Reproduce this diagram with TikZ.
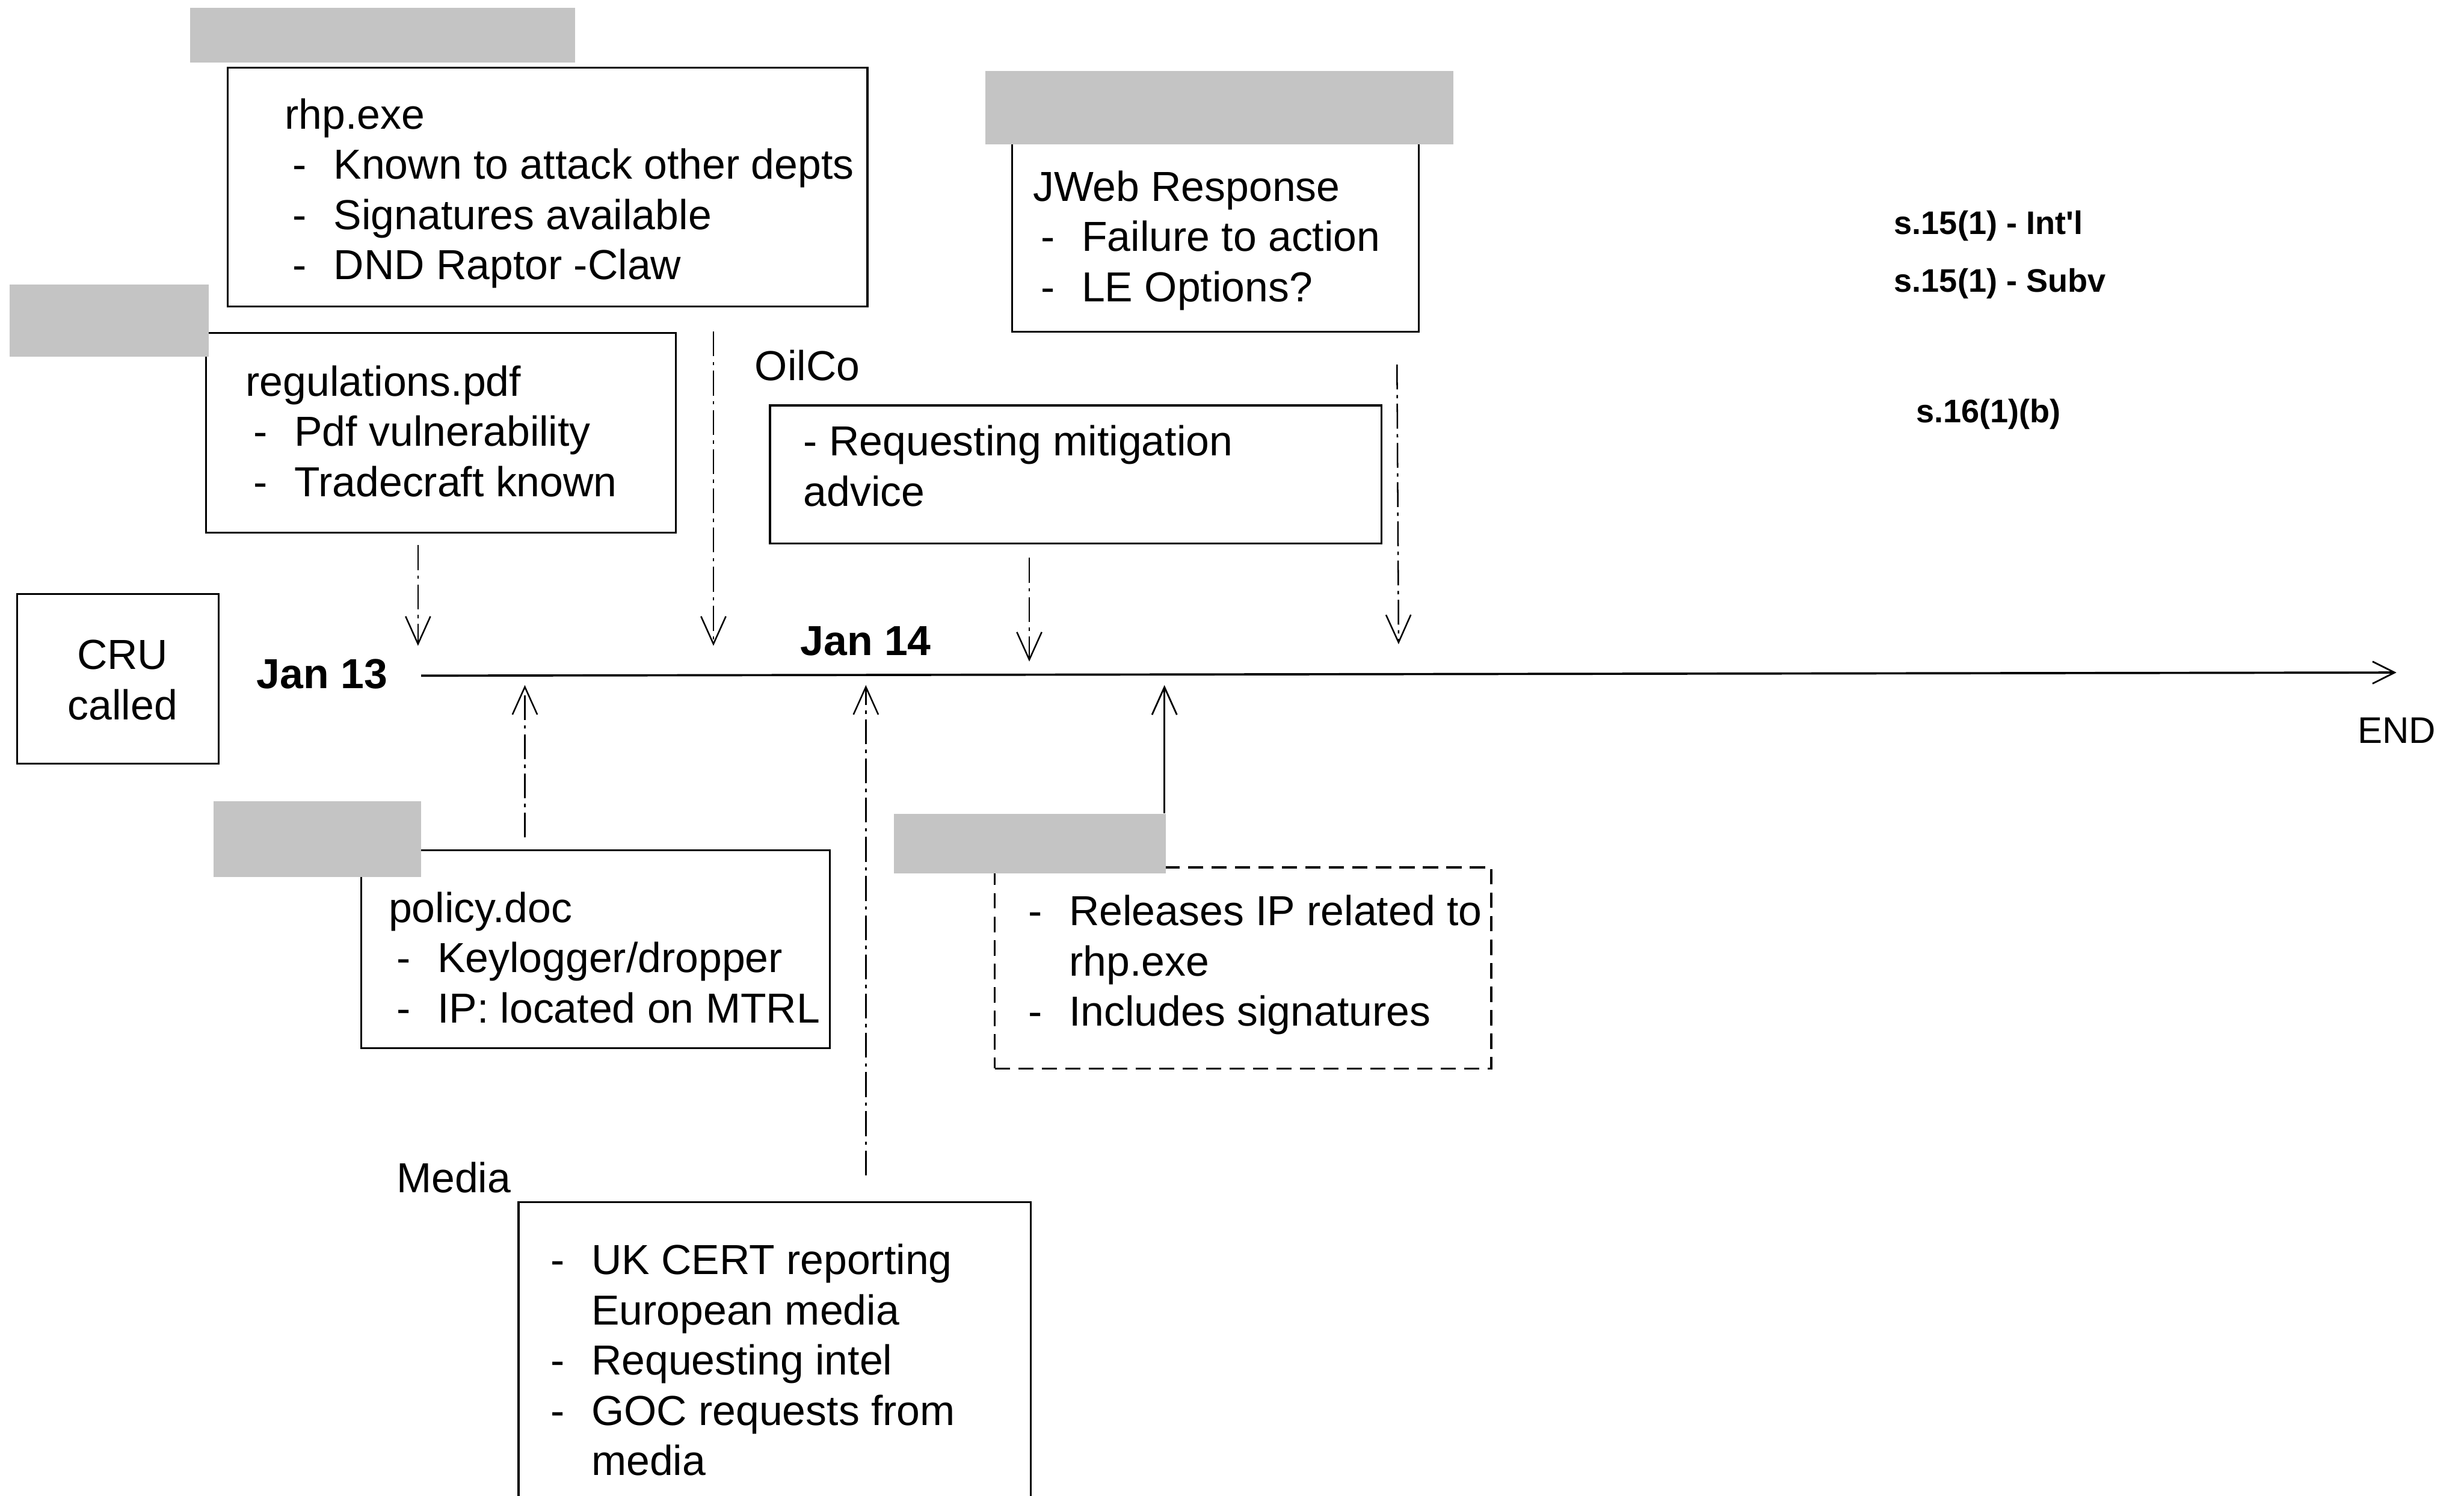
\documentclass[tikz,border=0pt]{standalone}
\usepackage{fontspec}
\setmainfont{Liberation Sans}
\usetikzlibrary{arrows.meta,fit}
\definecolor{redgray}{RGB}{196,196,196}
% hanging dash for list items
\newcommand\bul{\makebox[0.52cm][l]{-}}
\newcommand\ind{\hspace*{0.1cm}}
\newcommand\cont{\hspace*{0.52cm}}
\begin{document}
\begin{tikzpicture}[x=0.02cm,y=-0.02cm,
  frame/.style={draw=black,line width=0.7pt,inner sep=0pt},
  dframe/.style={frame,dash pattern=on 5.5pt off 3pt},
  redact/.style={fill=redgray,draw=none,inner sep=0pt},
  body/.style={anchor=base west,inner sep=0pt,font=\fontsize{15.2}{18.2}\selectfont},
  datelbl/.style={anchor=base west,inner sep=0pt,font=\fontsize{15.2}{18.2}\selectfont\bfseries},
  note/.style={anchor=base west,inner sep=0pt,font=\fontsize{11.8}{14}\selectfont\bfseries},
  link/.style={line width=0.55pt,dash pattern=on 9pt off 2pt on 1.2pt off 2pt,
    -{Straight Barb[length=10pt,width=9pt,line width=0.55pt]}},
  solidlink/.style={line width=0.6pt,-{Straight Barb[length=10pt,width=9pt]}},
  axis/.style={line width=0.8pt,-{Straight Barb[length=8pt,width=8pt,line width=0.6pt]}},
]
\useasboundingbox (0,0) rectangle (1568,952);

% ---- frames ----
\node[frame,fit={(145,43) (552,195)}] (rhpbox) {};
\node[frame,fit={(131,212) (430,339)}] (regbox) {};
\node[frame,fit={(490,258) (879,346)}] (oilbox) {};
\node[frame,fit={(644,90) (903,211)}] (jwebbox) {};
\node[frame,fit={(11,378) (139,486)}] (crubox) {};
\node[frame,fit={(230,541) (528,667)}] (policybox) {};
\node[dframe,fit={(633,552) (949,680)}] (relbox) {};
\node[frame,fit={(330,765) (656,1010)}] (mediabox) {};

% ---- redaction blocks ----
\node[redact,fit={(121,5) (366,40)}] (red1) {};
\node[redact,fit={(6,181) (133,227)}] (red2) {};
\node[redact,fit={(627,45) (925,92)}] (red3) {};
\node[redact,fit={(136,510) (268,558)}] (red4) {};
\node[redact,fit={(569,518) (742,556)}] (red5) {};

% ---- box contents ----
\node[body] (rhptxt) at (181,82) {\begin{tabular}[t]{@{}l@{}}rhp.exe\\
  \ind\bul Known to attack other depts\\
  \ind\bul Signatures available\\
  \ind\bul DND Raptor -Claw\end{tabular}};
\node[body] (regtxt) at (156,252) {\begin{tabular}[t]{@{}l@{}}regulations.pdf\\
  \ind\bul Pdf vulnerability\\
  \ind\bul Tradecraft known\end{tabular}};
\node[body] (oillbl) at (480,242) {OilCo};
\node[body] (oiltxt) at (511,290) {\begin{tabular}[t]{@{}l@{}}- Requesting mitigation\\
  advice\end{tabular}};
\node[body] (jwebtxt) at (657,128) {\begin{tabular}[t]{@{}l@{}}JWeb Response\\
  \ind\bul Failure to action\\
  \ind\bul LE Options?\end{tabular}};
\node[body,anchor=base] (crutxt) at (78,426) {\begin{tabular}[t]{@{}c@{}}CRU\\called\end{tabular}};
\node[body] (policytxt) at (247,587) {\begin{tabular}[t]{@{}l@{}}policy.doc\\
  \ind\bul Keylogger/dropper\\
  \ind\bul IP: located on MTRL\end{tabular}};
\node[body] (reltxt) at (654,589) {\begin{tabular}[t]{@{}l@{}}\bul Releases IP related to\\
  \cont rhp.exe\\
  \bul Includes signatures\end{tabular}};
\node[body] (medialbl) at (252,759) {Media};
\node[body] (mediatxt) at (350,811) {\begin{tabular}[t]{@{}l@{}}\bul UK CERT reporting\\
  \cont European media\\
  \bul Requesting intel\\
  \bul GOC requests from\\
  \cont media\end{tabular}};

% ---- dates and side notes ----
\node[datelbl] (jan13) at (163,438) {Jan 13};
\node[datelbl] (jan14) at (509,417) {Jan 14};
\node[note] (n1) at (1205,149) {s.15(1) - Int\textquotesingle l};
\node[note] (n2) at (1205,186) {s.15(1) - Subv};
\node[note] (n3) at (1219,269) {s.16(1)(b)};
\node[anchor=base west,inner sep=0pt,font=\fontsize{13.4}{16}\selectfont] (endlbl) at (1500,473) {END};

% ---- timeline ----
\coordinate (tl0) at (268,430);
\coordinate (tl1) at (1525,428);
\draw[axis] (tl0) -- (tl1);

% ---- connectors ----
\coordinate (d1s) at (266,347);  \coordinate (d1e) at (266,411);
\coordinate (d2s) at (454,211);  \coordinate (d2e) at (454,411);
\coordinate (d3s) at (655,355);  \coordinate (d3e) at (655,421);
\coordinate (d4s) at (889,232);  \coordinate (d4e) at (890,410);
\coordinate (u1s) at (334,533);  \coordinate (u1e) at (334,436);
\coordinate (u2s) at (551,748);  \coordinate (u2e) at (551,436);
\coordinate (u3e) at (741,436);
\draw[link] (d1s) -- (d1e);
\draw[link] (d2s) -- (d2e);
\draw[link] (d3s) -- (d3e);
\draw[link] (d4s) -- (d4e);
\draw[link] (u1s) -- (u1e);
\draw[link] (u2s) -- (u2e);
\draw[solidlink] (red5.north east -| u3e) -- (u3e);
\end{tikzpicture}
\end{document}
